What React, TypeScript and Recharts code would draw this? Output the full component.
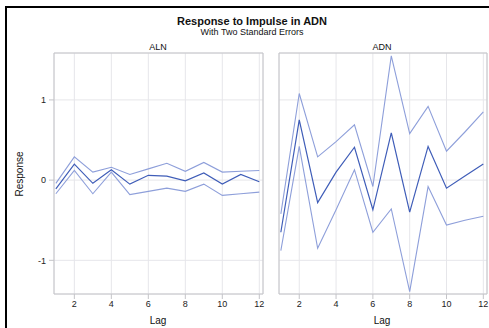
import React from "react";
import { LineChart, Line, XAxis, YAxis, CartesianGrid, ReferenceArea } from "recharts";

const lags = [1, 2, 3, 4, 5, 6, 7, 8, 9, 10, 11, 12];
const alnResp = [-0.11, 0.2, -0.04, 0.13, -0.05, 0.06, 0.05, -0.01, 0.09, -0.05, 0.07, -0.02];
const alnUpper = [-0.04, 0.29, 0.1, 0.16, 0.07, 0.14, 0.21, 0.11, 0.22, 0.1, 0.11, 0.12];
const alnLower = [-0.17, 0.12, -0.17, 0.1, -0.18, -0.14, -0.1, -0.14, -0.05, -0.19, -0.17, -0.15];
const adnResp = [-0.65, 0.75, -0.28, 0.1, 0.41, -0.37, 0.59, -0.4, 0.42, -0.1, 0.05, 0.2];
const adnUpper = [-0.42, 1.08, 0.29, 0.48, 0.69, -0.08, 1.55, 0.58, 0.92, 0.36, 0.6, 0.85];
const adnLower = [-0.88, 0.42, -0.85, -0.37, 0.13, -0.65, -0.36, -1.39, -0.08, -0.56, -0.5, -0.45];
const xTicks = [2, 4, 6, 8, 10, 12];
const yTicks = [-1, 0, 1];

const xDomain: [number, number] = [0.9, 12.2];
const yDomain: [number, number] = [-1.42, 1.585];

const aln = lags.map((l, i) => ({ lag: l, resp: alnResp[i], upper: alnUpper[i], lower: alnLower[i] }));
const adn = lags.map((l, i) => ({ lag: l, resp: adnResp[i], upper: adnUpper[i], lower: adnLower[i] }));

const FONT = "Arial, 'Liberation Sans', sans-serif";
const DARK = "#3F5DB8";
const LIGHT = "#8E9FDA";
const GRID = "#E6E6EA";
const BORDER = "#C4C4C8";

function Panel({ data, showY, width, margin }: { data: any[]; showY: boolean; width: number; margin: any }) {
  return (
    <LineChart width={width} height={328} data={data} margin={margin}>
      <CartesianGrid stroke={GRID} strokeWidth={1} horizontal vertical />
      <XAxis
        dataKey="lag"
        type="number"
        domain={xDomain}
        ticks={xTicks}
        allowDataOverflow
        axisLine={false}
        tickLine={{ stroke: BORDER }}
        tickSize={5}
        tickMargin={2}
        height={20}
        tick={{ fill: "#222", fontSize: 9, fontFamily: FONT }}
      />
      <YAxis
        type="number"
        domain={yDomain}
        ticks={yTicks}
        allowDataOverflow
        hide={!showY}
        width={14}
        axisLine={false}
        tickLine={{ stroke: BORDER }}
        tickSize={5}
        tickMargin={3}
        tick={{ fill: "#222", fontSize: 9, fontFamily: FONT }}
      />
      <ReferenceArea
        x1={xDomain[0]}
        x2={xDomain[1]}
        y1={yDomain[0]}
        y2={yDomain[1]}
        fill="none"
        fillOpacity={0}
        stroke={BORDER}
        strokeWidth={1}
        ifOverflow="visible"
      />
      <Line dataKey="upper" stroke={LIGHT} strokeWidth={1.1} dot={false} isAnimationActive={false} />
      <Line dataKey="lower" stroke={LIGHT} strokeWidth={1.1} dot={false} isAnimationActive={false} />
      <Line dataKey="resp" stroke={DARK} strokeWidth={1.2} dot={false} isAnimationActive={false} />
    </LineChart>
  );
}

const txt = (extra: React.CSSProperties): React.CSSProperties => ({
  position: "absolute",
  fontFamily: FONT,
  color: "#111",
  whiteSpace: "nowrap",
  lineHeight: 1,
  ...extra,
});

export default function App() {
  return (
    <div style={{ position: "absolute", left: 0, top: 0, width: 489, height: 328, background: "#fff", overflow: "hidden" }}>
      <div style={{ position: "absolute", left: 5, top: 6, width: 500, height: 340, borderLeft: "2px solid #000", borderTop: "2px solid #000" }} />
      <div style={{ position: "absolute", left: 0, top: 0 }}>
        <Panel data={aln} showY width={270} margin={{ top: 53, right: 7, left: 40, bottom: 14 }} />
      </div>
      <div style={{ position: "absolute", left: 270, top: 0 }}>
        <Panel data={adn} showY={false} width={219} margin={{ top: 53, right: 2, left: 9, bottom: 14 }} />
      </div>
      <div style={txt({ left: 252, top: 16, transform: "translateX(-50%)", fontSize: 11, fontWeight: "bold" })}>
        Response to Impulse in ADN
      </div>
      <div style={txt({ left: 252, top: 28, transform: "translateX(-50%)", fontSize: 9 })}>With Two Standard Errors</div>
      <div style={txt({ left: 158, top: 43, transform: "translateX(-50%)", fontSize: 9 })}>ALN</div>
      <div style={txt({ left: 382, top: 43, transform: "translateX(-50%)", fontSize: 9 })}>ADN</div>
      <div style={txt({ left: 158, top: 316, transform: "translateX(-50%)", fontSize: 10 })}>Lag</div>
      <div style={txt({ left: 382, top: 316, transform: "translateX(-50%)", fontSize: 10 })}>Lag</div>
      <div style={txt({ left: 20, top: 174, transform: "translate(-50%, -50%) rotate(-90deg)", fontSize: 10 })}>Response</div>
    </div>
  );
}
